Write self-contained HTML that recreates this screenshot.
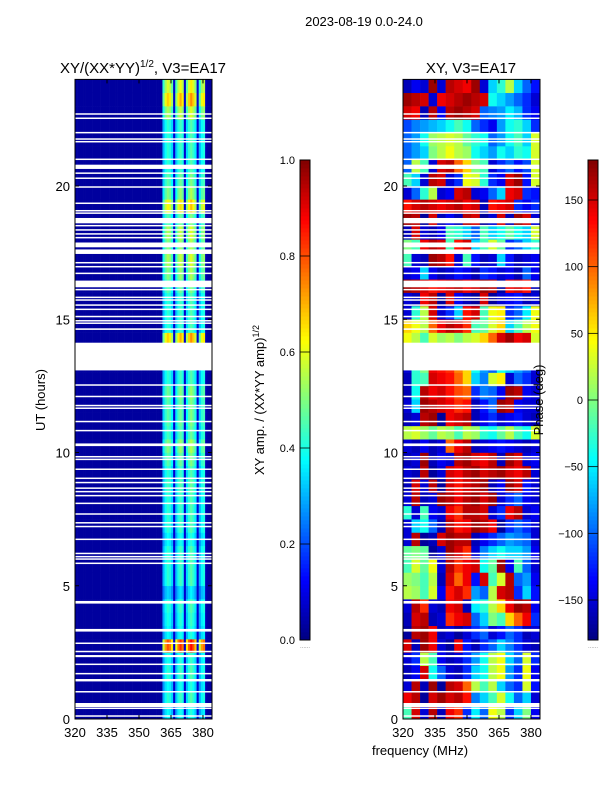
<!DOCTYPE html>
<html><head><meta charset="utf-8"><style>
body{margin:0;background:#fff;}
svg{display:block;font-family:"Liberation Sans",sans-serif;}
</style></head><body>
<svg id="fig" width="600" height="800">
<text x="364" y="26" font-size="13" text-anchor="middle">2023-08-19 0.0-24.0</text>
<text x="143" y="73" font-size="15" text-anchor="middle">XY/(XX*YY)<tspan font-size="10" dy="-6">1/2</tspan><tspan dy="6">, V3=EA17</tspan></text>
<text x="471" y="73" font-size="15" text-anchor="middle">XY, V3=EA17</text>
<g id="left"></g>
<g id="right"></g>
<g id="axes"></g>
<text x="45" y="400" font-size="13" text-anchor="middle" transform="rotate(-90 45 400)">UT (hours)</text>
<text x="420" y="755" font-size="13" text-anchor="middle">frequency (MHz)</text>
<text x="264" y="400" font-size="13" text-anchor="middle" transform="rotate(-90 264 400)">XY amp. / (XX*YY amp)<tspan font-size="9" dy="-5">1/2</tspan></text>
<text x="543" y="400" font-size="13" text-anchor="middle" transform="rotate(-90 543 400)">Phase (deg)</text>
<g id="cbars"></g>
</svg>
<script>
// ---- data ----
const ampFreqs = Array.from({length:64},(_, i)=>320+i); // 1 MHz bins 320..384
const ampColBase = [0.03,0.03,0.03,0.03,0.03,0.03,0.03,0.03,0.03,0.03,0.03,0.03,0.03,0.03,0.03,0.03,
0.03,0.03,0.03,0.03,0.03,0.03,0.03,0.03,0.03,0.03,0.03,0.03,0.03,0.03,0.03,0.03,
0.03,0.03,0.03,0.03,0.03,0.03,0.03,0.03,0.03,0.30,0.38,0.42,0.40,0.34,0.08,0.32,0.40,0.44,
0.40,0.08,0.34,0.42,0.46,0.42,0.36,0.08,0.30,0.38,0.40,0.05,0.03,0.03];
const ampRowGain = [0.9,1.0,0.9,1.0,0.95,1.9,0.9,0.95,1.0,0.8,1.0,1.0,1.0,0.9,1.0,1.0,
1.0,1.05,1.0,1.1,1.2,1.05,1.1,1.1,1.15,1.0,1.0,1.0,1.6,1.0,1.0,1.0,
1.1,1.2,1.3,1.2,1.3,1.1,1.5,1.2,1.1,1.0,1.0,1.0,1.0,1.3,1.6,1.4];
const flagStart = [0.09,0.38,0.45,1.0,1.41,1.68,2.03,2.32,2.51,2.82,3.28,4.33,5.82,5.98,6.07,6.19,6.72,7.2,7.34,7.67,8.07,8.36,8.51,8.64,8.85,9.01,9.35,9.72,9.82,10.24,10.8,11.14,11.64,11.74,12.08,12.51,13.08,14.6,14.83,14.92,15.08,15.35,15.51,15.7,15.8,16.1,16.2,16.7,16.95,17.1,17.45,17.7,18.04,18.18,18.33,18.49,18.6,18.96,19.05,19.33,19.95,20.27,20.46,20.64,20.98,21.64,21.74,21.98,22.52,22.68];
const flagEnd   = [0.14,0.43,0.6,1.05,1.5,1.73,2.08,2.4,2.56,2.87,3.38,4.43,5.87,6.03,6.12,6.24,6.77,7.25,7.39,7.72,8.12,8.41,8.56,8.69,8.9,9.06,9.4,9.77,9.87,10.34,10.85,11.19,11.69,11.79,12.13,12.56,14.12,14.66,14.88,14.97,15.13,15.4,15.56,15.75,15.85,16.14,16.45,16.75,17.0,17.15,17.62,17.88,18.09,18.23,18.38,18.54,18.8,19.01,19.1,19.38,19.99,20.32,20.51,20.8,21.03,21.69,21.79,22.03,22.57,22.73];
const phaseFreqs = [320,324,328,332,336,340,344,348,352,356,360,364,368,372,376,380];
const phaseRows = [
[-20,150,-150,160,-160,140,120,-120,-50,-100,40,20,-120,-60,0,-140],
[140,160,-170,150,170,150,160,130,-90,-60,-20,30,-40,-100,-60,-150],
[-150,160,-160,170,-170,160,150,100,20,-20,20,-60,-100,-120,30,-130],
[-160,-140,150,-40,-100,-150,-160,-120,-60,-40,20,40,-80,-120,40,-140],
[-150,-120,20,-20,-140,-160,-150,-120,-80,-40,20,40,-60,-100,30,-120],
[150,-160,170,140,-150,-170,140,-130,-160,-120,-100,-60,-90,-120,-150,-160],
[-170,160,170,140,-160,-150,-170,-150,-120,-100,-150,-130,-100,-120,-160,-150],
[-160,150,160,-160,-150,120,140,150,-100,-60,0,-20,60,100,140,-120],
[-150,160,120,-150,-160,140,150,-160,-50,-30,20,60,140,170,160,-140],
[20,10,-20,30,-140,130,150,120,-80,-100,20,150,160,-120,-60,-130],
[10,0,-20,20,-160,150,100,140,-130,150,-20,30,160,-100,-80,-140],
[-20,30,-10,40,-150,160,120,140,150,-40,-10,170,-140,-20,-100,-150],
[-10,0,-10,-170,-150,170,150,120,-150,-90,-60,-40,-60,-60,-80,-140],
[-150,160,-170,-160,150,170,160,160,-160,-140,-120,-100,-80,-90,-100,-150],
[-150,-60,-40,-100,-160,160,130,140,170,160,140,-170,-120,-100,-120,-150],
[-30,-150,-20,-140,-150,140,120,160,160,150,-150,-120,140,160,-150,-140],
[-150,160,-160,-150,170,160,140,160,170,150,170,-150,-120,-100,-140,-150],
[-160,150,-150,160,-170,150,130,150,160,170,-160,-140,170,150,-130,-150],
[-150,-160,160,-170,-150,150,140,160,170,150,160,170,150,140,160,-150],
[-160,-150,170,-160,-140,-150,160,170,150,140,160,-160,170,150,-150,-140],
[-150,-160,-140,-160,-150,100,140,160,-160,-150,-140,-130,-140,-150,-160,-150],
[20,30,10,-10,20,10,-20,20,10,-30,-40,-10,20,-20,-40,30],
[-160,-150,160,170,-170,140,150,160,-160,-140,-120,-150,-140,-130,-150,-160],
[-150,-60,170,160,150,140,120,130,-160,-130,-100,170,160,-140,-150,-150],
[-160,-40,160,140,150,130,110,100,-120,-90,-100,-140,170,160,-140,-150],
[-160,-30,-20,150,140,130,100,60,-60,-90,30,50,-150,-100,-120,-150],
[-150,-30,0,140,130,120,90,60,-40,-80,-100,-40,-60,-80,-100,-150],
[-150,-30,0,140,130,120,90,60,-40,-80,-100,-40,-60,-80,-100,-150],
[40,20,-20,30,10,20,0,20,30,60,100,150,170,140,150,30],
[60,40,20,100,140,160,150,120,-20,-10,30,60,-60,-20,20,40],
[-150,-30,20,150,-150,-120,-60,130,150,-20,40,50,-120,-100,-50,40],
[-150,-160,140,160,-170,150,-140,-160,-170,150,-170,-150,-140,-130,-160,-150],
[170,160,150,130,140,150,160,140,150,170,160,-170,140,150,130,-160],
[-150,-140,-60,-140,-160,-150,-130,-140,-160,-120,-130,-150,-140,-160,-100,-140],
[-20,-150,-160,170,160,130,-150,-20,-130,-160,-150,-60,-130,-160,-150,-140],
[0,-20,140,160,150,-20,130,150,-60,-20,30,-10,-120,-100,-60,-30],
[-160,150,-150,-160,-140,-20,-30,-60,-100,-20,-60,-40,-10,-40,-60,30],
[170,160,-170,150,-160,-140,-160,160,150,-170,-150,150,-160,170,150,-150],
[130,150,160,150,140,150,160,140,150,-160,130,140,150,-120,-140,-120],
[-150,-100,-30,20,-150,-140,150,160,-150,-140,-100,-60,140,150,-120,-130],
[-20,-60,-150,160,150,-150,-120,40,30,-30,-120,-140,150,170,-130,30],
[-100,20,-20,-150,150,160,100,60,0,-20,-150,-120,-100,-130,-110,30],
[-100,-80,-60,0,20,40,20,10,-40,-60,-80,-40,-60,-30,-40,30],
[-100,-80,-40,10,20,30,20,-10,-30,-40,-100,-80,-40,-20,-60,30],
[-110,-90,-80,-70,-60,-40,-20,-40,-100,-120,-140,-80,-40,-30,-60,-120],
[150,140,-160,160,-140,160,170,160,150,-100,-90,-80,-50,-70,-120,-140],
[170,160,150,-150,140,150,160,170,160,150,-40,-60,-80,-100,-120,-150],
[-160,-140,-150,170,-150,160,150,140,170,-150,-60,-30,20,-60,-100,-130]];
const hourTicks = [0,5,10,15,20];
const freqTicks = [320,335,350,365,380];
const ampCbTicks = [0.0,0.2,0.4,0.6,0.8,1.0];
const phaseCbTicks = [-150,-100,-50,0,50,100,150];

// ---- helpers ----
const NS="http://www.w3.org/2000/svg";
function mk(tag,attrs,parent){const e=document.createElementNS(NS,tag);for(const k in attrs)e.setAttribute(k,attrs[k]);parent.appendChild(e);return e;}
function jet(v){v=Math.max(0,Math.min(1,v));
 const c=x=>Math.round(255*Math.max(0,Math.min(1,x)));
 const r=1.5-Math.abs(4*v-3), g=1.5-Math.abs(4*v-2), b=1.5-Math.abs(4*v-1);
 return `rgb(${c(r)},${c(g)},${c(b)})`;}
const yOf=h=>719-h*26.65;
const xL=f=>75+(f-320)*2.133;
const xR=f=>403+(f-320)*2.133;
const FMAX=384.3;

// left heatmap
const gL=document.getElementById('left');
for(let r=0;r<ampRowGain.length;r++){
 for(let c=0;c<ampFreqs.length;c++){
  const v=ampColBase[c]*(ampColBase[c]>0.1?ampRowGain[r]:1);
  const x0=xL(ampFreqs[c]), x1=xL(Math.min(ampFreqs[c]+1,FMAX));
  const y0=yOf(r*0.5+0.5), y1=yOf(r*0.5);
  const e=mk('rect',{x:x0,y:y0,width:x1-x0+0.3,height:y1-y0+0.3,fill:jet(v)},gL);
  
  
 }
}
// right heatmap
const gR=document.getElementById('right');
for(let r=0;r<phaseRows.length;r++){
 for(let c=0;c<phaseFreqs.length;c++){
  const v=(phaseRows[r][c]+180)/360;
  const x0=xR(phaseFreqs[c]), x1=xR(Math.min(phaseFreqs[c]+4,FMAX));
  const y0=yOf(r*0.5+0.5), y1=yOf(r*0.5);
  const e=mk('rect',{x:x0,y:y0,width:x1-x0+0.3,height:y1-y0+0.3,fill:jet(v)},gR);
  
  
 }
}
// flags (white rows)
[[gL,xL],[gR,xR]].forEach(([g,xf])=>{
 for(let i=0;i<flagStart.length;i++){
  const e=mk('rect',{x:xf(320),y:yOf(flagEnd[i]),width:xf(FMAX)-xf(320),height:Math.max(1.5,yOf(flagStart[i])-yOf(flagEnd[i])),fill:'#fff'},g);
  
  
 }
});
// axes
const ax=document.getElementById('axes');
[[75,xL],[403,xR]].forEach(([x0,xf],pi)=>{
 const fr=mk('rect',{x:x0,y:yOf(24),width:137,height:yOf(0)-yOf(24),fill:'none',stroke:'#000','stroke-width':1},ax);
 
 
 hourTicks.forEach(h=>{
  const y=yOf(h);
  mk('line',{x1:x0,y1:y,x2:x0+4,y2:y,stroke:'#000'},ax);
  mk('line',{x1:x0+137,y1:y,x2:x0+133,y2:y,stroke:'#000'},ax);
  const t=mk('text',{x:x0-5,y:y+5,'font-size':13,'text-anchor':'end'},ax);
  t.textContent=h;
  
  
 });
 freqTicks.forEach(f=>{
  const x=xf(f);
  mk('line',{x1:x,y1:719,x2:x,y2:715,stroke:'#000'},ax);
  mk('line',{x1:x,y1:yOf(24),x2:x,y2:yOf(24)+4,stroke:'#000'},ax);
  const t=mk('text',{x:x,y:737,'font-size':13,'text-anchor':'middle'},ax);
  t.textContent=f;
  
  
 });
});
// colorbars
const cb=document.getElementById('cbars');
function colorbar(x,ticks,lo,hi,name,fmt){
 const top=160,bot=640,n=120;
 for(let i=0;i<n;i++){
  const v=(i+0.5)/n;
  mk('rect',{x:x,y:bot-(i+1)*(bot-top)/n,width:10,height:(bot-top)/n+0.4,fill:jet(v)},cb);
 }
 const f=mk('rect',{x:x,y:top,width:10,height:bot-top,fill:'none',stroke:'#000'},cb);
 
 
 ticks.forEach(tv=>{
  const y=bot-(tv-lo)/(hi-lo)*(bot-top);
  mk('line',{x1:x,y1:y,x2:x+10,y2:y,stroke:'#000','stroke-width':0.8},cb);
  const t=mk('text',{x:x-5,y:y+4,'font-size':11,'text-anchor':'end'},cb);
  t.textContent=fmt(tv);
  
  
 });
 const d=mk('text',{x:x+5,y:648,'font-size':6,'text-anchor':'middle',fill:'#888'},cb);
 d.textContent='......';
}
colorbar(300,ampCbTicks,0,1,'amp-colorbar',v=>v.toFixed(1));
colorbar(588,phaseCbTicks,-180,180,'phase-colorbar',v=>v<0?'\u2212'+(-v):String(v));
</script>
</body></html>
